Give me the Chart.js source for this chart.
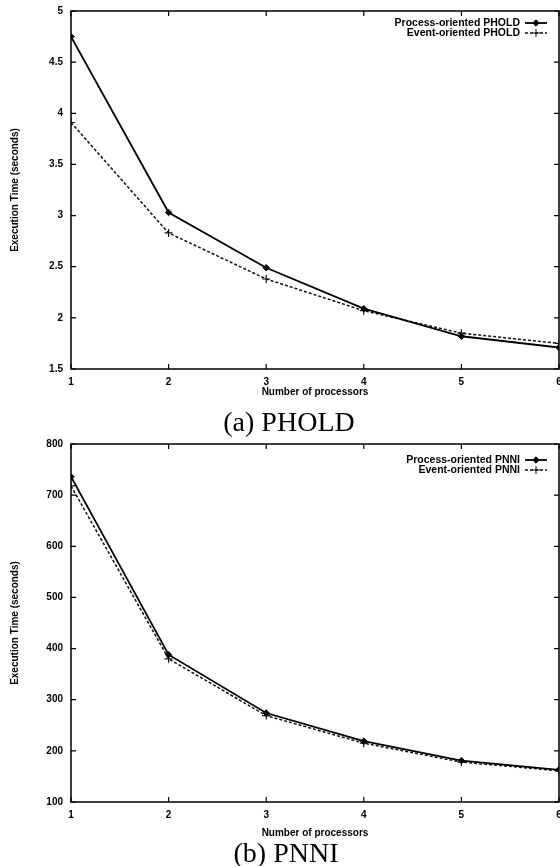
<!DOCTYPE html>
<html>
<head>
<meta charset="utf-8">
<script src="https://cdn.jsdelivr.net/npm/chart.js@4.4.1/dist/chart.umd.min.js"></script>
<style>
  html, body { margin: 0; padding: 0; background: #fff; }
  #page { position: relative; width: 560px; height: 866px; overflow: hidden; background: #fff; }
  canvas { position: absolute; left: 0; }
  .caption { position: absolute; font-family: "Liberation Serif", "DejaVu Serif", serif; font-size: 28px; line-height: 28px; color: #000; white-space: nowrap; transform: translateX(-50%); }
</style>
</head>
<body>
<div id="page">
  <canvas id="c1" width="560" height="400" style="top:0px"></canvas>
  <canvas id="c2" width="560" height="420" style="top:433px"></canvas>
  <div class="caption" style="left:289px; top:408px">(a) PHOLD</div>
  <div class="caption" style="left:286px; top:839px">(b) PNNI</div>
</div>
<script>
// ---- data ----
const processors = [1, 2, 3, 4, 5, 6];
const xTicks = [1, 2, 3, 4, 5, 6];

const pholdProcess = [4.75, 3.03, 2.49, 2.09, 1.82, 1.71];
const pholdEvent   = [3.91, 2.83, 2.38, 2.07, 1.85, 1.75];
const pholdYTicks  = [1.5, 2, 2.5, 3, 3.5, 4, 4.5, 5];

const pnniProcess  = [736, 388, 274, 219, 181, 163];
const pnniEvent    = [718, 380, 269, 215, 178, 161];
const pnniYTicks   = [100, 200, 300, 400, 500, 600, 700, 800];

const pholdLabels = ['Process-oriented PHOLD', 'Event-oriented PHOLD'];
const pnniLabels  = ['Process-oriented PNNI', 'Event-oriented PNNI'];
const xTitle = 'Number of processors';
const yTitle = 'Execution Time (seconds)';

// ---- rendering ----
const FONT = '"Liberation Sans", Arial, sans-serif';

const framePlugin = {
  id: 'frame',
  afterDatasetsDraw(chart) {
    const ctx = chart.ctx;
    const a = chart.chartArea;
    const xs = chart.scales.x, ys = chart.scales.y;
    ctx.save();
    ctx.strokeStyle = '#000';
    ctx.lineWidth = 1.5;
    ctx.strokeRect(a.left, a.top, a.right - a.left, a.bottom - a.top);
    ctx.lineWidth = 1.2;
    const L = 5;
    ctx.beginPath();
    xs.ticks.forEach(t => {
      const px = xs.getPixelForValue(t.value);
      ctx.moveTo(px, a.bottom); ctx.lineTo(px, a.bottom - L);
      ctx.moveTo(px, a.top); ctx.lineTo(px, a.top + L);
    });
    ys.ticks.forEach(t => {
      const py = ys.getPixelForValue(t.value);
      ctx.moveTo(a.left, py); ctx.lineTo(a.left + L, py);
      ctx.moveTo(a.right, py); ctx.lineTo(a.right - L, py);
    });
    ctx.stroke();
    ctx.restore();
  }
};

function drawMarker(ctx, style, x, y, r) {
  ctx.beginPath();
  if (style === 'rectRot') {
    ctx.moveTo(x, y - r); ctx.lineTo(x + r, y); ctx.lineTo(x, y + r); ctx.lineTo(x - r, y); ctx.closePath();
    ctx.fill(); ctx.stroke();
  } else {
    ctx.moveTo(x - r, y); ctx.lineTo(x + r, y);
    ctx.moveTo(x, y - r); ctx.lineTo(x, y + r);
    ctx.stroke();
  }
}

const legendPlugin = {
  id: 'insideLegend',
  afterDraw(chart, args, opts) {
    const ctx = chart.ctx;
    const a = chart.chartArea;
    ctx.save();
    ctx.font = 'bold 10.5px ' + FONT;
    ctx.textAlign = 'right';
    ctx.textBaseline = 'middle';
    chart.data.datasets.forEach((ds, i) => {
      const y = a.top + opts.offsetY + i * 10;
      ctx.fillStyle = '#000';
      ctx.fillText(ds.label, a.right - 39, y + 0.5);
      ctx.strokeStyle = ds.borderColor;
      ctx.lineWidth = ds.borderWidth;
      ctx.setLineDash(ds.borderDash || []);
      ctx.beginPath();
      ctx.moveTo(a.right - 34, y); ctx.lineTo(a.right - 12, y);
      ctx.stroke();
      ctx.setLineDash([]);
      ctx.fillStyle = ds.pointBackgroundColor;
      ctx.strokeStyle = ds.pointBorderColor;
      ctx.lineWidth = 1;
      drawMarker(ctx, ds.pointStyle, a.right - 23, y, ds.pointRadius);
    });
    ctx.restore();
  }
};

function makeChart(id, labels, procVals, evtVals, yTicks, legendOffset, xAxisHeight, xTitlePad) {
  const yMin = yTicks[0], yMax = yTicks[yTicks.length - 1];
  return new Chart(document.getElementById(id), {
    type: 'line',
    data: {
      datasets: [
        {
          label: labels[0],
          data: processors.map((p, i) => ({ x: p, y: procVals[i] })),
          borderColor: '#000', borderWidth: 1.8,
          pointStyle: 'rectRot', pointRadius: 3.2,
          pointBackgroundColor: '#000', pointBorderColor: '#000', pointBorderWidth: 1,
          tension: 0, fill: false
        },
        {
          label: labels[1],
          data: processors.map((p, i) => ({ x: p, y: evtVals[i] })),
          borderColor: '#111', borderWidth: 1.5, borderDash: [3, 2],
          pointStyle: 'cross', pointRadius: 4,
          pointBackgroundColor: '#111', pointBorderColor: '#111', pointBorderWidth: 1.2,
          tension: 0, fill: false
        }
      ]
    },
    options: {
      responsive: false,
      animation: false,
      devicePixelRatio: 1,
      layout: { autoPadding: false, padding: { top: 11, right: 1, left: 0, bottom: 0 } },
      plugins: {
        legend: { display: false },
        tooltip: { enabled: false },
        insideLegend: { offsetY: legendOffset }
      },
      scales: {
        x: {
          type: 'linear', min: xTicks[0], max: xTicks[xTicks.length - 1],
          afterBuildTicks(s) { s.ticks = xTicks.map(v => ({ value: v })); },
          afterFit(s) { s.height = xAxisHeight; s.paddingLeft = 0; s.paddingRight = 0; },
          grid: { display: false, drawTicks: false },
          border: { display: false },
          ticks: { padding: 7, color: '#000', font: { family: FONT, size: 10, weight: 'bold' }, maxRotation: 0, autoSkip: false, callback: v => String(v) },
          title: { display: true, text: xTitle, color: '#000', font: { family: FONT, size: 10, weight: 'bold' }, padding: { top: 0, bottom: xTitlePad } }
        },
        y: {
          type: 'linear', min: yMin, max: yMax,
          afterBuildTicks(s) { s.ticks = yTicks.map(v => ({ value: v })); },
          afterFit(s) { s.width = 71; s.paddingTop = 0; s.paddingBottom = 0; },
          grid: { display: false, drawTicks: false },
          border: { display: false },
          ticks: { padding: 8, color: '#000', font: { family: FONT, size: 10, weight: 'bold' }, autoSkip: false, callback: v => String(v) },
          title: { display: true, text: yTitle, color: '#000', font: { family: FONT, size: 10, weight: 'bold' }, padding: { top: 9, bottom: 0 } }
        }
      }
    },
    plugins: [framePlugin, legendPlugin]
  });
}

makeChart('c1', pholdLabels, pholdProcess, pholdEvent, pholdYTicks, 12, 31, 2);
makeChart('c2', pnniLabels, pnniProcess, pnniEvent, pnniYTicks, 16, 51, 14);
</script>
</body>
</html>
